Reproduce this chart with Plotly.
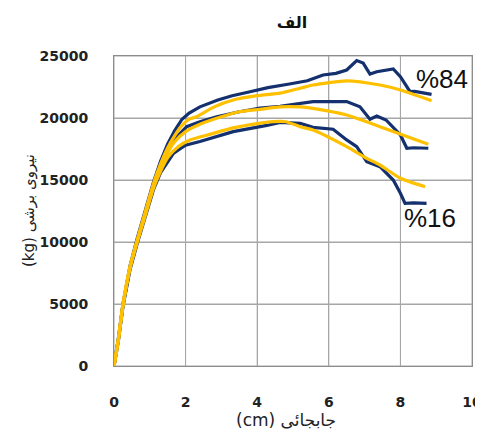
import plotly.graph_objects as go

# ---- data (displacement cm, shear force kg) ----
x_rise = [0, 0.12, 0.25, 0.45, 0.65, 0.85, 1.1, 1.3]

navy84_x = x_rise + [1.5, 1.7, 1.9, 2.1, 2.4, 2.9, 3.3, 3.8, 4.3, 4.9, 5.4, 5.84, 6.2, 6.5, 6.78, 6.96, 7.15, 7.34, 7.8, 8.0, 8.27, 8.4, 8.87]
navy84_y = [0, 2200, 5000, 8100, 10300, 12300, 14800, 16500, 17900, 19000, 19900, 20400, 20900, 21450, 21800, 22120, 22450, 22740, 23000, 23470, 23600, 23870, 24630, 24430, 23550, 23730, 23950, 23330, 22120, 22150, 21900]

gold84_x = x_rise + [1.5, 1.7, 1.9, 2.1, 2.3, 2.8, 3.33, 4.0, 4.64, 5.2, 5.56, 6.5, 7.43, 8.0, 8.87]
gold84_y = [0, 2150, 4950, 8050, 10200, 12200, 14700, 16300, 17600, 18600, 19400, 19900, 20100, 20900, 21450, 21800, 22000, 22400, 22660, 23000, 22660, 22260, 21400]

navy50_x = x_rise + [1.5, 1.7, 2.03, 2.4, 2.87, 3.5, 4.08, 4.64, 5.2, 5.56, 6.5, 6.87, 7.15, 7.34, 7.6, 8.0, 8.18, 8.37, 8.78]
navy50_y = [0, 2100, 4900, 8000, 10100, 12100, 14500, 16000, 17300, 18300, 19300, 19700, 20100, 20500, 20800, 20950, 21200, 21320, 21320, 20900, 19900, 20160, 19840, 18630, 17560, 17600, 17560]

gold50_x = x_rise + [1.5, 1.7, 2.0, 2.4, 3.0, 3.5, 4.08, 4.64, 5.2, 5.56, 6.5, 7.43, 8.18, 8.78]
gold50_y = [0, 2100, 4900, 8000, 10100, 12050, 14450, 15900, 17200, 18100, 18900, 19500, 20100, 20500, 20700, 20900, 20900, 20780, 20240, 19300, 18500, 17880]

navy16_x = x_rise + [1.5, 1.66, 1.84, 2.0, 2.4, 3.33, 4.27, 4.64, 5.2, 5.56, 6.12, 6.5, 6.78, 7.06, 7.43, 7.8, 8.0, 8.13, 8.37, 8.73]
navy16_y = [0, 2000, 4800, 7800, 9900, 11800, 14200, 15600, 16500, 17150, 17500, 17800, 18100, 18900, 19400, 19650, 19570, 19250, 19090, 18230, 17690, 16480, 16070, 15000, 13930, 13120, 13150, 13120]

gold16_x = x_rise + [1.5, 1.8, 2.12, 2.7, 3.33, 4.0, 4.45, 4.8, 5.2, 5.56, 6.5, 7.06, 7.43, 8.0, 8.69]
gold16_y = [0, 2050, 4850, 7900, 10000, 11900, 14300, 15700, 16800, 17700, 18230, 18700, 19200, 19550, 19700, 19700, 19300, 19030, 17690, 16750, 16210, 15140, 14460]

x_ticks = [0, 2, 4, 6, 8, 10]
x_tick_text = ["0", "2", "4", "6", "8", "10"]
y_ticks = [0, 5000, 10000, 15000, 20000, 25000]
y_tick_text = ["0", "5000", "10000", "15000", "20000", "25000"]

NAVY = "#14306e"
GOLD = "#ffc000"
GRID = "#a6a6a6"

fig = go.Figure()

# grid lines placed on the axis scales (backup to the native grid)
for xv in x_ticks:
    fig.add_shape(type="line", xref="x", yref="paper", x0=xv, x1=xv, y0=0, y1=1,
                  line=dict(color=GRID, width=1), layer="below")
for yv in y_ticks:
    fig.add_shape(type="line", xref="paper", yref="y", x0=0, x1=1, y0=yv, y1=yv,
                  line=dict(color=GRID, width=1), layer="below")

for xs, ys in [(navy84_x, navy84_y), (navy50_x, navy50_y), (navy16_x, navy16_y)]:
    fig.add_trace(go.Scatter(x=xs, y=ys, mode="lines",
                             line=dict(color=NAVY, width=3.2), showlegend=False))
for xs, ys in [(gold84_x, gold84_y), (gold50_x, gold50_y), (gold16_x, gold16_y)]:
    fig.add_trace(go.Scatter(x=xs, y=ys, mode="lines",
                             line=dict(color=GOLD, width=3.2, shape="spline", smoothing=0.6),
                             showlegend=False))

fig.add_annotation(x=9.16, y=23150, text="%84", showarrow=False,
                   font=dict(family="Liberation Sans, Arial", size=26, color="#111"))
fig.add_annotation(x=8.83, y=11940, text="%16", showarrow=False,
                   font=dict(family="Liberation Sans, Arial", size=26, color="#111"))

# axis titles as annotations for exact placement
fig.add_annotation(xref="paper", yref="paper", x=0.48, y=-0.213,
                   text="(cm) جابجائی", showarrow=False,
                   font=dict(family="DejaVu Sans", size=17, color="#222"))
fig.add_annotation(xref="paper", yref="paper", x=-0.268, y=0.5, textangle=-90,
                   text="(kg) نیروی برشی", showarrow=False,
                   font=dict(family="DejaVu Sans", size=15, color="#222"))

axis_common = dict(showgrid=True, gridcolor=GRID, gridwidth=1,
                   showline=True, linecolor="#8c8c8c", linewidth=1, mirror=True,
                   zeroline=False, ticks="", automargin=False,
                   tickfont=dict(family="DejaVu Sans", size=14, color="#222"))

fig.update_xaxes(range=[0, 10], tickvals=x_ticks,
                 ticktext=["<b>%s</b>" % t for t in x_tick_text],
                 ticklabelstandoff=23, **axis_common)
fig.update_yaxes(range=[0, 25000], tickvals=y_ticks,
                 ticktext=["<b>%s</b>" % t for t in y_tick_text],
                 ticklabelstandoff=22, **axis_common)

# page body has an 8px default margin; margins compensate so the plot area
# lands where the reference has it
fig.update_layout(
    width=483, height=444,
    margin=dict(l=106, r=19, t=48, b=86),
    paper_bgcolor="white", plot_bgcolor="white",
    title=dict(text="<b>الف</b>", x=0.588, xanchor="center", y=0.968, yanchor="middle",
               font=dict(family="DejaVu Sans", size=16, color="#111")),
)

fig.write_html("out.html")
